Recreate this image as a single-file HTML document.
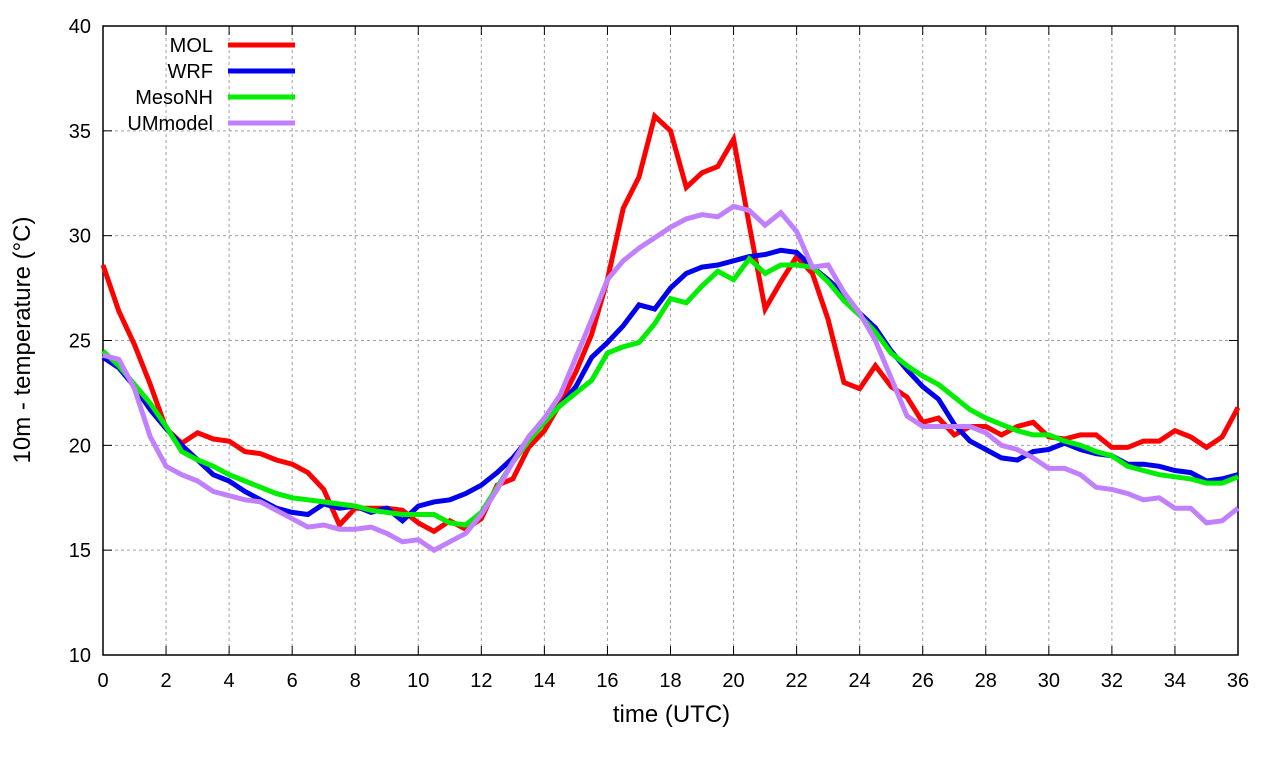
<!DOCTYPE html>
<html><head><meta charset="utf-8"><style>
html,body{margin:0;padding:0;background:#fff;}
svg{display:block;font-family:"Liberation Sans",sans-serif;}
</style></head><body>
<svg id="chart" width="1280" height="760"></svg>
<script>
const times = []; for (let i = 0; i <= 72; i++) times.push(i * 0.5);
const mol = [28.6,26.4,24.8,22.9,20.8,20.1,20.6,20.3,20.2,19.7,19.6,19.3,19.1,18.7,17.9,16.2,17.0,17.0,17.0,16.9,16.3,15.9,16.4,16.0,16.5,18.1,18.4,19.9,20.7,22.0,23.5,25.3,27.9,31.3,32.8,35.7,35.0,32.3,33.0,33.3,34.6,30.5,26.5,27.8,29.0,28.2,26.0,23.0,22.7,23.8,22.8,22.3,21.1,21.3,20.5,20.9,20.9,20.5,20.9,21.1,20.4,20.3,20.5,20.5,19.9,19.9,20.2,20.2,20.7,20.4,19.9,20.4,21.8];
const wrf = [24.2,23.7,22.8,21.7,20.8,20.0,19.3,18.6,18.3,17.8,17.4,17.0,16.8,16.7,17.2,17.0,17.1,16.8,17.0,16.4,17.1,17.3,17.4,17.7,18.1,18.7,19.4,20.3,21.2,21.9,22.8,24.2,24.9,25.7,26.7,26.5,27.5,28.2,28.5,28.6,28.8,29.0,29.1,29.3,29.2,28.5,27.9,27.2,26.3,25.6,24.5,23.6,22.8,22.2,21.0,20.2,19.8,19.4,19.3,19.7,19.8,20.1,19.8,19.6,19.5,19.1,19.1,19.0,18.8,18.7,18.3,18.4,18.6];
const mesonh = [24.5,23.8,22.9,22.0,20.9,19.7,19.3,19.0,18.6,18.3,18.0,17.7,17.5,17.4,17.3,17.2,17.1,16.9,16.8,16.7,16.7,16.7,16.3,16.2,16.8,18.0,19.2,20.2,21.1,21.9,22.5,23.1,24.4,24.7,24.9,25.8,27.0,26.8,27.6,28.3,27.9,28.9,28.2,28.6,28.6,28.5,27.8,26.9,26.2,25.4,24.4,23.8,23.3,22.9,22.3,21.7,21.3,21.0,20.7,20.5,20.5,20.2,20.0,19.7,19.5,19.0,18.8,18.6,18.5,18.4,18.2,18.2,18.5];
const ummodel = [24.3,24.1,22.7,20.4,19.0,18.6,18.3,17.8,17.6,17.4,17.3,16.9,16.5,16.1,16.2,16.0,16.0,16.1,15.8,15.4,15.5,15.0,15.4,15.8,16.7,17.9,19.2,20.4,21.3,22.4,24.2,26.0,27.9,28.8,29.4,29.9,30.4,30.8,31.0,30.9,31.4,31.2,30.5,31.1,30.2,28.5,28.6,27.3,26.3,25.0,23.2,21.4,20.9,20.9,20.9,20.9,20.6,20.0,19.8,19.4,18.9,18.9,18.6,18.0,17.9,17.7,17.4,17.5,17.0,17.0,16.3,16.4,17.0];
const xTicks = [0,2,4,6,8,10,12,14,16,18,20,22,24,26,28,30,32,34,36];
const yTicks = [10,15,20,25,30,35,40];
const seriesNames = ["MOL","WRF","MesoNH","UMmodel"];

const L=103,R=1238,T=26,B=655;
const xs = t => L + (t-0)/(36-0)*(R-L);
const ys = v => B - (v-10)/(40-10)*(B-T);
const svg = document.getElementById('chart');
const NS='http://www.w3.org/2000/svg';
function mk(tag, attrs, parent){const e=document.createElementNS(NS,tag);for(const k in attrs)e.setAttribute(k,attrs[k]);(parent||svg).appendChild(e);return e;}

const grid = mk('g',{});


xTicks.forEach(t=>{ if(t>0&&t<36){ const l=mk('line',{x1:xs(t),x2:xs(t),y1:T,y2:B,stroke:'#a0a0a0','stroke-width':1,'stroke-dasharray':'3,3'},grid);

}});
yTicks.forEach(v=>{ if(v>10&&v<40){ const l=mk('line',{x1:L,x2:R,y1:ys(v),y2:ys(v),stroke:'#a0a0a0','stroke-width':1,'stroke-dasharray':'3,3'},grid);

}});

const frame = mk('rect',{x:L,y:T,width:R-L,height:B-T,fill:'none',stroke:'#000','stroke-width':1.5});



xTicks.forEach(t=>{
  mk('line',{x1:xs(t),x2:xs(t),y1:B,y2:B-9,stroke:'#000'});
  mk('line',{x1:xs(t),x2:xs(t),y1:T,y2:T+9,stroke:'#000'});
  const tx=mk('text',{x:xs(t),y:B+32,'text-anchor':'middle','font-size':20},svg);
  tx.textContent=t;
  
  
});
yTicks.forEach(v=>{
  mk('line',{x1:L,x2:L+9,y1:ys(v),y2:ys(v),stroke:'#000'});
  mk('line',{x1:R,x2:R-9,y1:ys(v),y2:ys(v),stroke:'#000'});
  const tx=mk('text',{x:L-12,y:ys(v)+7,'text-anchor':'end','font-size':20},svg);
  tx.textContent=v;
  
  
});

const xt=mk('text',{x:(L+R)/2+1,y:722,'text-anchor':'middle','font-size':24});
xt.textContent='time (UTC)';


const yt=mk('text',{x:0,y:0,'text-anchor':'middle','font-size':24,transform:'translate(30,340) rotate(-90)'});
yt.textContent='10m - temperature (°C)';



const colors=['#ff0000','#0000ee','#00ee00','#c080ff'];
const allData=[mol,wrf,mesonh,ummodel];
[0,1,2,3].forEach(i=>{
  const d=allData[i].map((v,j)=>(j?'L':'M')+xs(times[j]).toFixed(1)+','+ys(v).toFixed(1)).join('');
  const p=mk('path',{d:d,fill:'none',stroke:colors[i],'stroke-width':5,'stroke-linejoin':'miter'});
  
  
});

const leg=mk('g',{});


seriesNames.forEach((n,i)=>{
  const y=45+i*26;
  const g=mk('g',{},leg);
  
  
  const tx=mk('text',{x:213,y:y+7,'text-anchor':'end','font-size':20},g);
  tx.textContent=n;
  mk('line',{x1:228,x2:295,y1:y,y2:y,stroke:colors[i],'stroke-width':5},g);
});
</script>
</body></html>
